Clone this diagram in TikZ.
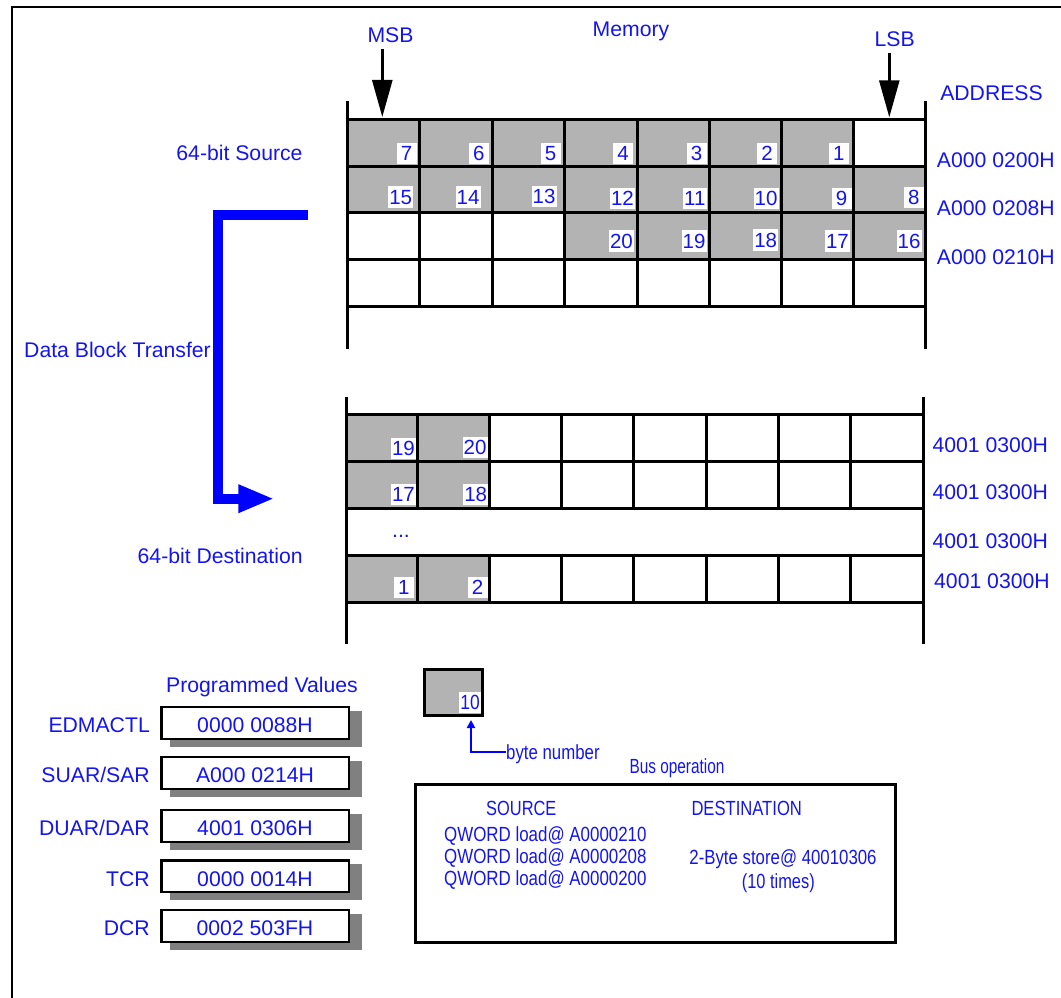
\documentclass[tikz,border=0pt]{standalone}
\usepackage{fontspec}
\usepackage{graphicx}
\setmainfont{Liberation Sans}
\usetikzlibrary{arrows.meta}
\definecolor{tblue}{RGB}{20,20,240}
\definecolor{abblue}{RGB}{0,0,255}
\definecolor{cellgray}{RGB}{179,179,179}
\definecolor{shadowgray}{RGB}{128,128,128}
\newcommand{\cnd}[2][0.8]{\scalebox{#1}[1]{\fontsize{20.5}{24}\selectfont #2}}
\begin{document}
\begin{tikzpicture}[x=1pt,y=-1pt,
  every node/.style={font=\fontsize{21.2}{25}\selectfont, text=tblue, inner sep=0pt, text height=15.2pt, text depth=0pt},
  gridline/.style={line width=3pt, line cap=rect},
  frameline/.style={line width=2pt},
  numbox/.style={font=\fontsize{20.5}{24}\selectfont, fill=white, inner xsep=1pt, inner ysep=3.3pt, text height=14.7pt, minimum width=20pt, anchor=south east},
  valbox/.style={draw=black, fill=white, line width=2.5pt, minimum width=187.5pt, minimum height=31.8pt, text height=19.8pt},
  regname/.style={anchor=east},
  blackarrow/.style={line width=2.5pt, -{Triangle[length=37pt,width=20pt]}},
  bigarrow/.style={draw=abblue, line width=10pt, miter limit=10, -{Triangle[length=36pt,width=26pt]}},
  smallarrow/.style={draw=abblue, line width=2pt, -{Triangle[length=8pt,width=8pt]}}
]
\useasboundingbox (0,0) rectangle (1061,998);
% frame
\draw[frameline] (11.5,998) -- (11.5,7) -- (1061,7);

% ---------- source memory ----------
\fill[cellgray] (347,119) rectangle (853,166);
\fill[cellgray] (347,166) rectangle (925,212.5);
\fill[cellgray] (564.5,212.5) rectangle (925,259);
\foreach \yy in {119,166,212.5,259,306} \draw[gridline] (347,\yy) -- (925,\yy);
\foreach \xx in {419.5,492,564.5,637,709,781,853} \draw[gridline] (\xx,119) -- (\xx,306);
\draw[gridline,line cap=butt] (347,101) -- (347,349);
\draw[gridline,line cap=butt] (925,101) -- (925,349);

\foreach \t/\xx/\yy in {7/416.7/164, 6/489/164, 5/560.7/164, 4/633.3/164, 3/706.7/164, 2/777.3/164, 1/849/164,
  15/413.3/207.7, 14/480.7/207.7, 13/556.7/207, 12/635/209.3, 11/706.7/209.3, 10/778.7/209.3, 9/851.7/209.3, 8/924/208.3,
  20/634/251.7, 19/706.7/251.7, 18/778.3/250.7, 17/850/251.7, 16/921.7/251.7}
  \node[numbox, name=s\t] at (\xx,\yy) {\t};

\node (memory) at (631,28.5) {Memory};
\node (msb) at (390.5,34.5) {MSB};
\node (lsb) at (894.7,38.8) {LSB};
\coordinate (msbtip) at (382.3,117);
\coordinate (lsbtip) at (889.3,117.3);
\draw[blackarrow] ([yshift=-7pt]msb.south -| msbtip) -- (msbtip);
\draw[blackarrow] ([yshift=-6pt]lsb.south -| lsbtip) -- (lsbtip);

\node (address) at (991.5,93.3) {ADDRESS};
\node[anchor=west] (a1) at (936.7,159.5) {A000 0200H};
\node[anchor=west] (a2) at (936.7,208.3) {A000 0208H};
\node[anchor=west] (a3) at (936.7,256.7) {A000 0210H};

\node (src) at (239.5,153) {64-bit Source};

% ---------- transfer arrow ----------
\coordinate (tstart) at (307.7,215.3);
\coordinate (tend) at (274.3,498.7);
\draw[bigarrow] (tstart) -- (218.3,215.3) -- (218.3,498.7) -- (tend);
\node (dbt) at (117.5,350.3) {Data Block Transfer};
\node (dst) at (220.2,555.8) {64-bit Destination};

% ---------- destination memory ----------
\fill[cellgray] (346,414) rectangle (489,508);
\fill[cellgray] (346,555) rectangle (489,602);
\foreach \yy in {414,461,508,555,602} \draw[gridline] (346,\yy) -- (923,\yy);
\foreach \xx in {417.5,489,561,633.5,706,778,850} {
  \draw[gridline] (\xx,414) -- (\xx,508);
  \draw[gridline] (\xx,555) -- (\xx,602);
}
\draw[gridline,line cap=butt] (346,396.7) -- (346,644);
\draw[gridline,line cap=butt] (923,396.7) -- (923,644);

\foreach \t/\xx/\yy in {19/416/459, 20/487.7/458.3, 17/416/505, 18/488.3/505, 1/414/598.3, 2/487.7/598.3}
  \node[numbox, name=d\t] at (\xx,\yy) {\t};
\node[anchor=base] (dots) at (401,537) {...};

\node[anchor=west] (b1) at (932.3,445) {4001 0300H};
\node[anchor=west] (b2) at (932.3,492.3) {4001 0300H};
\node[anchor=west] (b3) at (932.3,540.7) {4001 0300H};
\node[anchor=west] (b4) at (934,581) {4001 0300H};

% ---------- programmed values ----------
\node (pv) at (262,684.5) {Programmed Values};
\foreach \yc/\nm/\val [count=\i] in {723/EDMACTL/0000 0088H, 773/SUAR\slash SAR/A000 0214H, 826/DUAR\slash DAR/4001 0306H, 876.2/TCR/0000 0014H, 926/DCR/0002 503FH} {
  \fill[shadowgray] (170,\yc-12) rectangle (361.7,\yc+23.7);
  \node[valbox, name=v\i] at (255,\yc) {\val};
  \node[regname, name=r\i] at (150,\yc+2.3) {\nm};
}

% ---------- legend ----------
\draw[fill=cellgray, line width=3pt] (424,669) rectangle (482,715.7);
\node[numbox, name=leg] at (481,713.3) {\cnd[0.85]{10}};
\node[anchor=west] (bytenum) at (506,752) {\cnd[0.82]{byte number}};
\coordinate (legtip) at (471,720);
\draw[smallarrow] (bytenum.west) -- (471,752) -- (legtip);

% ---------- bus operation ----------
\node (busop) at (677,765.8) {\cnd[0.75]{Bus operation}};
\node[draw=black, line width=3pt, minimum width=479.4pt, minimum height=158.6pt] (bus) at (655.5,863.5) {};
\node (source) at (521.3,808.3) {\cnd{SOURCE}};
\node (dest) at (746.7,808.3) {\cnd[0.81]{DESTINATION}};
\node[anchor=west] (q1) at (444,834.3) {\cnd[0.825]{QWORD load@ A0000210}};
\node[anchor=west] (q2) at (444,855.8) {\cnd[0.825]{QWORD load@ A0000208}};
\node[anchor=west] (q3) at (444,877.7) {\cnd[0.825]{QWORD load@ A0000200}};
\node (store) at (783,856.7) {\cnd[0.82]{2-Byte store@ 40010306}};
\node (times) at (778.3,881.3) {\cnd[0.8]{(10 times)}};
\end{tikzpicture}
\end{document}
